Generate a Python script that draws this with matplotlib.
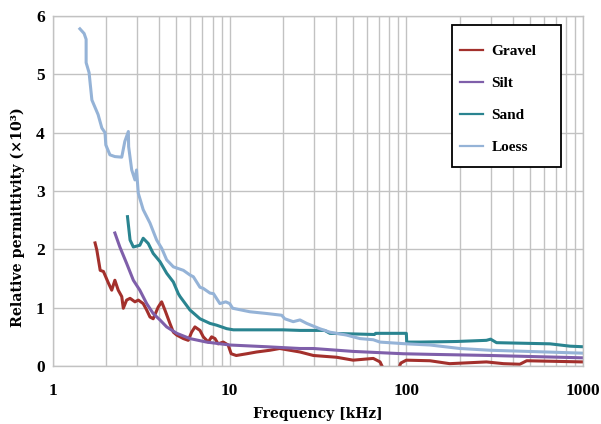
import numpy as np
import matplotlib
matplotlib.use("Agg")
import matplotlib.pyplot as plt
from matplotlib.patches import Rectangle
from matplotlib.ticker import FixedLocator, FixedFormatter, NullFormatter, LogLocator

# ---- data (frequency in kHz, relative permittivity x10^3) ----
gravel_f = [1.73, 1.77, 1.85, 1.93, 2.06, 2.15, 2.24, 2.34, 2.45, 2.50, 2.61, 2.73, 2.91, 3.04,
            3.24, 3.39, 3.54, 3.69, 3.94, 4.12, 4.30, 4.59, 4.80, 5.02, 5.47, 5.83, 6.09, 6.36,
            6.79, 7.09, 7.57, 7.9, 8.26, 8.6, 9.2, 9.8, 10.2, 10.9, 12.5, 14.2, 16.9, 19.2, 25,
            29.8, 40.3, 50, 65, 71, 75.5, 89, 93, 100, 136, 176, 284, 355, 439, 480, 1000]
gravel_v = [2.11, 1.99, 1.64, 1.62, 1.42, 1.30, 1.47, 1.30, 1.19, 0.99, 1.13, 1.16, 1.10, 1.13,
            1.07, 0.96, 0.84, 0.81, 1.01, 1.10, 0.96, 0.73, 0.58, 0.53, 0.47, 0.44, 0.58, 0.67,
            0.61, 0.50, 0.41, 0.50, 0.47, 0.38, 0.41, 0.36, 0.21, 0.18, 0.21, 0.24, 0.27, 0.30, 0.24,
            0.18, 0.15, 0.10, 0.13, 0.07, -0.10, -0.10, 0.05, 0.10, 0.09, 0.04, 0.07, 0.04, 0.03, 0.09, 0.07]

silt_f = [2.24, 2.39, 2.61, 2.85, 3.10, 3.39, 3.69, 4.03, 4.40, 5.02, 5.96, 7.4, 10, 16.2, 25,
          29.8, 50, 96, 136, 300, 1000]
silt_v = [2.28, 2.04, 1.76, 1.47, 1.30, 1.07, 0.90, 0.79, 0.67, 0.56, 0.47, 0.41, 0.36, 0.33, 0.30,
          0.30, 0.25, 0.21, 0.20, 0.18, 0.14]

sand_f = [2.64, 2.73, 2.85, 3.10, 3.24, 3.46, 3.69, 4.03, 4.40, 4.80, 5.12, 5.24, 5.96, 6.79, 7.74,
          8.43, 9.62, 10.5, 13, 20, 25, 34.5, 36.9, 50, 66, 67, 100, 100.5, 119, 192, 284, 300,
          324, 651, 844, 1000]
sand_v = [2.56, 2.16, 2.04, 2.07, 2.19, 2.10, 1.93, 1.79, 1.59, 1.44, 1.24, 1.19, 0.96, 0.81, 0.73,
          0.70, 0.64, 0.62, 0.62, 0.62, 0.61, 0.61, 0.56, 0.55, 0.54, 0.56, 0.56, 0.41, 0.41, 0.42,
          0.44, 0.46, 0.40, 0.38, 0.34, 0.33]

loess_f = [1.42, 1.50, 1.54, 1.54, 1.60, 1.66, 1.80, 1.89, 1.97, 1.99, 2.10, 2.24, 2.45, 2.55, 2.67,
           2.68, 2.79, 2.91, 2.97, 3.04, 3.24, 3.54, 3.86, 4.12, 4.40, 4.80, 5.47, 5.96, 6.23, 6.79,
           7.09, 7.74, 8.1, 8.8, 9.5, 10.0, 10.4, 13.0, 16.2, 19.7, 20.5, 22.9, 25, 27.3, 32.3,
           36.9, 45.9, 54.6, 65, 70.9, 100, 136, 201, 298, 620, 1000]
loess_v = [5.78, 5.70, 5.60, 5.20, 5.03, 4.56, 4.31, 4.08, 4.00, 3.79, 3.62, 3.59, 3.58, 3.85, 4.02,
           3.76, 3.36, 3.19, 3.36, 2.96, 2.68, 2.45, 2.16, 2.02, 1.82, 1.70, 1.64, 1.56, 1.53, 1.35,
           1.33, 1.25, 1.24, 1.07, 1.10, 1.07, 0.99, 0.93, 0.90, 0.87, 0.81, 0.76, 0.79, 0.73, 0.64,
           0.58, 0.53, 0.47, 0.45, 0.41, 0.38, 0.36, 0.30, 0.27, 0.24, 0.22]

series_names = ["Gravel", "Silt", "Sand", "Loess"]
series_colors = ["#A3302C", "#7F5FAA", "#2A8490", "#95B3D7"]

x_ticks = [1, 10, 100, 1000]
x_ticklabels = ["1", "10", "100", "1000"]
y_ticks = [0, 1, 2, 3, 4, 5, 6]

# ---- figure ----
fig = plt.figure(figsize=(6.01, 4.24), dpi=100)
ax = fig.add_axes([53 / 601, 1 - 366 / 424, 530 / 601, 350 / 424])

data = [(gravel_f, gravel_v), (silt_f, silt_v), (sand_f, sand_v), (loess_f, loess_v)]
for (f, v), name, c in zip(data, series_names, series_colors):
    ax.plot(f, v, color=c, lw=2.2, label=name, solid_joinstyle="round")

ax.set_xscale("log")
ax.set_xlim(1, 1000)
ax.set_ylim(0, 6)

ax.xaxis.set_major_locator(FixedLocator(x_ticks))
ax.xaxis.set_major_formatter(FixedFormatter(x_ticklabels))
ax.xaxis.set_minor_locator(LogLocator(base=10, subs=np.arange(2, 10)))
ax.xaxis.set_minor_formatter(NullFormatter())
ax.set_yticks(y_ticks)

gc = "#C2C2C2"
ax.grid(True, which="major", axis="both", color=gc, lw=1.0)
ax.grid(True, which="minor", axis="x", color=gc, lw=1.0)
ax.set_axisbelow(True)
for s in ax.spines.values():
    s.set_color(gc)
    s.set_linewidth(1.0)
ax.tick_params(which="both", length=0)
ax.tick_params(axis="x", pad=12)
ax.tick_params(axis="y", pad=6)

for lab in ax.get_xticklabels() + ax.get_yticklabels():
    lab.set_fontfamily("Liberation Serif")
    lab.set_fontweight("bold")
    lab.set_fontsize(12.5)

ax.set_xlabel("Frequency [kHz]", fontdict=dict(family="DejaVu Serif", weight="bold", size=10), labelpad=6)
ax.set_ylabel("Relative permittivity (×10³)", fontdict=dict(family="DejaVu Serif", weight="bold", size=10.3))
ax.yaxis.set_label_coords(-0.0528, 0.426)

# legend box
ax.add_patch(Rectangle((0.7528, 0.5686), 0.9585 - 0.7528, 0.974 - 0.5686, transform=ax.transAxes,
                       facecolor="white", edgecolor="black", lw=1.3, zorder=4))
leg = ax.legend(loc="upper left", bbox_to_anchor=(0.768, 0.918), frameon=False,
                prop=dict(family="Liberation Serif", weight="bold", size=11),
                handlelength=1.5, handletextpad=0.55, labelspacing=1.2, borderpad=0,
                borderaxespad=0)
leg.set_zorder(5)
for h in leg.get_lines():
    h.set_linewidth(1.6)

fig.savefig("out.png", dpi=100)
